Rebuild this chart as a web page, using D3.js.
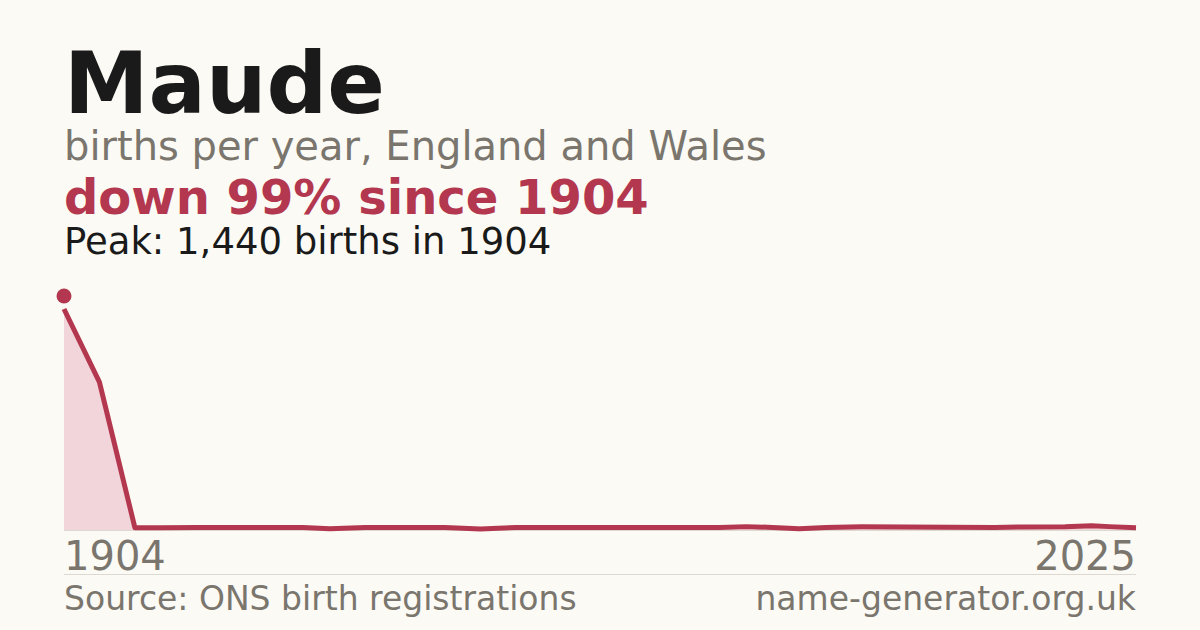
<!DOCTYPE html>
<html lang="en">
<head>
  <meta charset="UTF-8">
  <title>Maude</title>
  <style>
    html, body { margin: 0; padding: 0; background: #fbfaf5; }
    svg { display: block; font-family: "DejaVu Sans", sans-serif; }
  </style>
</head>
<body>
  <svg id="chart" width="1200" height="630"></svg>

  <script src="https://d3js.org/d3.v7.min.js"></script>
  <script>
    // births per year
    const years  = [1904, 1908, 1912, 1915, 1919, 1931, 1934, 1938, 1947, 1951, 1955, 1978, 1981, 1984, 1987, 1990, 1994, 2009, 2012, 2017, 2020, 2022, 2025];
    const births = [1440,  964,   15,   15,   17,   17,    8,   17,   17,    7,   17,   17,   22,   17,    8,   17,   21,   17,   20,   21,   27,   22,   15];
    const axisLabels = ["1904", "2025"];

    const red = "#b3384f";
    const grey = "#7a756d";

    const svg = d3.select("#chart");
    svg.append("rect").attr("width", 1200).attr("height", 630).attr("fill", "#fbfaf5");

    const data = years.map((y, i) => ({ year: y, value: births[i] }));

    const x = d3.scaleLinear().domain([1904, 2025]).range([64, 1136]);
    const y = d3.scaleLinear().domain([0, d3.max(births)]).range([530, 309]);

    // headings
    svg.append("text").attr("x", 64).attr("y", 113)
      .attr("font-size", 85).attr("font-weight", "bold").attr("fill", "#1a1a1a")
      .text("Maude");
    svg.append("text").attr("x", 64).attr("y", 160)
      .attr("font-size", 40).attr("fill", grey)
      .text("births per year, England and Wales");
    svg.append("text").attr("x", 64).attr("y", 214)
      .attr("font-size", 48).attr("font-weight", "bold").attr("fill", red)
      .text("down 99% since 1904");
    svg.append("text").attr("x", 64).attr("y", 254)
      .attr("font-size", 37).attr("fill", "#1a1a1a")
      .text("Peak: 1,440 births in 1904");

    // baseline
    svg.append("line")
      .attr("x1", x.range()[0]).attr("x2", x.range()[1])
      .attr("y1", y(0) + 0.5).attr("y2", y(0) + 0.5)
      .attr("stroke", "#ddd9d2").attr("stroke-width", 1);

    const area = d3.area()
      .x(d => x(d.year))
      .y0(y(0))
      .y1(d => y(d.value));

    const line = d3.line()
      .x(d => x(d.year))
      .y(d => y(d.value));

    svg.append("path").datum(data)
      .attr("d", area)
      .attr("fill", "#f2d5da");

    svg.append("path").datum(data)
      .attr("d", line)
      .attr("fill", "none")
      .attr("stroke", red)
      .attr("stroke-width", 5)
      .attr("stroke-linejoin", "round");

    // peak marker
    const peak = data[d3.maxIndex(data, d => d.value)];
    svg.append("circle")
      .attr("cx", x(peak.year))
      .attr("cy", y(peak.value) - 13)
      .attr("r", 7.5)
      .attr("fill", red);

    // end labels
    svg.append("text").attr("x", x(1904)).attr("y", 570)
      .attr("font-size", 40).attr("fill", grey)
      .text(axisLabels[0]);
    svg.append("text").attr("x", x(2025)).attr("y", 570)
      .attr("font-size", 40).attr("fill", grey).attr("text-anchor", "end")
      .text(axisLabels[1]);

    // footer
    svg.append("line")
      .attr("x1", 64).attr("x2", 1136)
      .attr("y1", 574.5).attr("y2", 574.5)
      .attr("stroke", "#ddd9d2").attr("stroke-width", 1);
    svg.append("text").attr("x", 64).attr("y", 610)
      .attr("font-size", 33).attr("fill", grey)
      .text("Source: ONS birth registrations");
    svg.append("text").attr("x", 1136).attr("y", 610)
      .attr("font-size", 33).attr("fill", grey).attr("text-anchor", "end")
      .text("name-generator.org.uk");
  </script>
</body>
</html>
